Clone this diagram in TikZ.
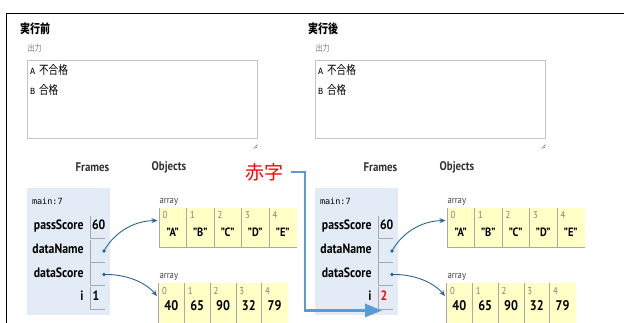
\documentclass[tikz,border=0pt]{standalone}
\usepackage{fontspec}
\setmainfont{PT Sans}[FakeStretch=0.87]
\setmonofont{DejaVu Sans Mono}
\newfontfamily\jp{Noto Sans CJK JP}[FakeStretch=0.8]
\newfontfamily\jpw{Noto Sans CJK JP}
\usetikzlibrary{arrows.meta}
\definecolor{framebg}{HTML}{E2EBF6}
\definecolor{arraybg}{HTML}{FFFFC6}
\definecolor{ptr}{HTML}{2A6496}
\definecolor{linegray}{HTML}{A8A8A8}
\definecolor{boxgray}{HTML}{C4C4C4}
\definecolor{hdrgray}{HTML}{333333}
\definecolor{idxgray}{HTML}{808080}
\definecolor{labgray}{HTML}{444444}
\definecolor{hlblue}{HTML}{5B9BD5}
\tikzset{
 every node/.style={inner sep=0pt, outer sep=0pt},
 titletext/.style={anchor=mid west, font=\jp\bfseries\fontsize{12.5}{13}\selectfont},
 outlabel/.style={anchor=mid west, text=idxgray, font=\jp\fontsize{9}{10}\selectfont},
 outbox/.style={draw=boxgray, line width=0.9pt, anchor=north west},
 outline/.style={anchor=mid west, font=\jp\fontsize{12}{13}\selectfont},
 hdr/.style={font=\bfseries\fontsize{12.5}{13}\selectfont, text=hdrgray},
 framebox/.style={fill=framebg, anchor=north west},
 fname/.style={anchor=mid west, font=\ttfamily\fontsize{8.5}{9}\selectfont},
 varname/.style={anchor=mid east, font=\bfseries\fontsize{13.5}{14}\selectfont},
 valbox/.style={minimum width=15pt, minimum height=22pt},
 valtext/.style={anchor=mid west, font=\bfseries\fontsize{13.5}{14}\selectfont},
 arrlabel/.style={anchor=mid west, text=labgray, font=\fontsize{10}{11}\selectfont},
 acell/.style={fill=arraybg, anchor=north west},
 idx/.style={anchor=mid west, text=idxgray, font=\fontsize{10}{11}\selectfont},
 aval/.style={anchor=mid, font=\bfseries\fontsize{14}{15}\selectfont},
 sval/.style={anchor=mid, font=\bfseries\fontsize{12}{13}\selectfont},
 ptrdot/.style={fill=ptr, circle, minimum size=3.6pt},
 ptrarrow/.style={draw=ptr, line width=0.9pt, -{Stealth[length=6pt,width=5pt]}},
 hlarrow/.style={draw=hlblue, line width=2.6pt, -{Triangle[length=17pt,width=13pt]}},
 cellline/.style={draw=linegray, line width=0.8pt},
 grip/.style={draw=gray, line width=0.6pt},
}
\newcommand\mypanel[4]{%
\begin{scope}[xshift=#2]
\node[titletext] (#1title) at (20,31.5) {#3};
\node[outlabel] (#1outlab) at (27.5,49) {出力};
\node[outbox, minimum width=230pt, minimum height=78pt] (#1out) at (27,60) {};
\node[outline] (#1l1) at (30,72.5) {{\ttfamily\fontsize{8.5}{9}\selectfont A}\hspace{4pt}不合格};
\node[outline] (#1l2) at (30,92) {{\ttfamily\fontsize{8.5}{9}\selectfont B}\hspace{4pt}合格};
\draw[grip] (253.5,148.5) -- (257.5,144.5) (255.5,148.5) -- (257.5,146.5);
\node[hdr] (#1frames) at (92.5,167.5) {Frames};
\node[hdr] (#1objects) at (169,167.5) {Objects};
\node[framebox, minimum width=83pt, minimum height=127pt] (#1frame) at (27,188) {};
\node[fname] (#1fn) at (32,202) {main:7};
% rows
\node[varname] (#1vps) at (83.5,227.5) {passScore};
\node[valbox] (#1bps) at (97.5,227.5) {};
\node[valtext] (#1tps) at (92,227.5) {60};
\node[varname] (#1vdn) at (83.5,251) {dataName};
\node[valbox] (#1bdn) at (97.5,251) {};
\node[varname] (#1vds) at (83.5,274.5) {dataScore};
\node[valbox] (#1bds) at (97.5,274.5) {};
\node[varname] (#1vi) at (83.5,298) {i};
\node[valbox] (#1bi) at (97.5,298) {};
\node[valtext] (#1ti) at (92.5,298) {#4};
\foreach \b in {bps,bdn,bds,bi}{
  \draw[cellline] (#1\b.north west) -- (#1\b.south west) -- (#1\b.south east);
}
% arrays
\node[arrlabel] (#1arrA) at (159.5,201) {array};
\foreach \v [count=\k from 0] in {"A","B","C","D","E"}{
  \node[acell, minimum width=27.5pt, minimum height=39pt] (#1a\k) at ({159+27.5*\k},208) {};
  \draw[cellline] (#1a\k.north west) -- (#1a\k.south west) -- (#1a\k.south east);
  \node[idx] at ({162.5+27.5*\k},216.5) {\k};
  \node[sval] at ({172.75+27.5*\k},234) {\v};
}
\node[arrlabel] (#1arrB) at (159.5,276.5) {array};
\foreach \v [count=\k from 0] in {40,65,90,32,79}{
  \node[acell, minimum width=25.8pt, minimum height=42pt] (#1b\k) at ({158.5+25.8*\k},283) {};
  \draw[cellline] (#1b\k.north west) -- (#1b\k.south west) -- (#1b\k.south east);
  \node[idx] at ({162+25.8*\k},292) {\k};
  \node[aval] at ({171.4+25.8*\k},308) {\v};
}
% pointers
\node[ptrdot] (#1dn) at (104,251) {};
\node[ptrdot] (#1ds) at (104,274.5) {};
\draw[ptrarrow] (#1dn.center) .. controls (112,236) and (130,221) .. ([xshift=-1.5pt,yshift=7pt]#1a0.west);
\draw[ptrarrow] (#1ds.center) .. controls (126,274) and (145,282) .. ([xshift=-1.5pt,yshift=8pt]#1b0.west);
\end{scope}}
\begin{document}
\begin{tikzpicture}[x=1pt,y=-1pt]
\useasboundingbox (0,0) rectangle (624,323);
\draw[line width=1.8pt] (6.5,325) -- (6.5,13.5) -- (626,13.5);
\mypanel{L}{0pt}{実行前}{1}
\mypanel{R}{288pt}{実行後}{\textcolor{red}{2}}
\node[font=\jpw\fontsize{19}{20}\selectfont, text=red] (redlabel) at (264,172) {赤字};
\coordinate (corner) at (305,172);
\draw[hlarrow, shorten <=8pt] (redlabel.east) -- (corner) |- ([xshift=4pt,yshift=-1.5pt]Rbi.south west);
\end{tikzpicture}
\end{document}
